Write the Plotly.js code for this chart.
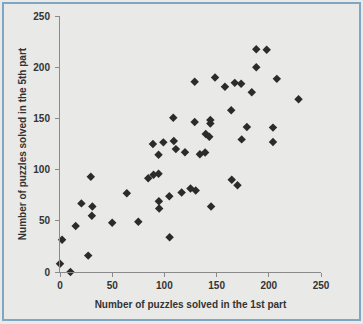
<!DOCTYPE html>
<html>
<head>
<meta charset="utf-8">
<script src="https://cdn.plot.ly/plotly-3.0.1.min.js"></script>
<style>html,body{margin:0;padding:0;background:#e9e9e7;}</style>
</head>
<body>
<div id="chart" style="width:363px;height:324px;"></div>
<script>
const firstPart = [0, 2, 10, 15, 20.5, 27, 29.5, 30.5, 31, 50, 64, 75, 84.5, 89.6, 94.4, 89, 94.4, 99, 94.7, 95,
  104.7, 105, 108.5, 109, 111, 116.5, 119.7, 125, 130, 129, 129, 134, 139, 139.6, 143, 144, 144, 144.7, 148.5, 158,
  164, 164.5, 167.4, 170, 173.5, 174, 179, 183.7, 188, 188, 198, 204, 204, 207.7, 228.5];
const fifthPart = [8, 31.5, 0, 45, 67, 16, 93, 55, 64, 48, 77, 49, 91.5, 95, 96, 125, 114.6, 126.6, 69, 62,
  74, 34, 150.6, 128, 120, 77.6, 117, 81.5, 79.5, 146.4, 185.7, 115, 116.6, 134.7, 132, 148.4, 145, 64, 190, 181,
  158, 90, 184.7, 84.7, 183.8, 129.5, 141.6, 175.6, 217.5, 200, 217, 141, 127, 188.6, 168.8];
const tickVals = [0, 50, 100, 150, 200, 250];
const tickText = ['0', '50', '100', '150', '200', '250'];

const fnt = {family: 'Liberation Sans, Arial, sans-serif', size: 10, color: '#333333', weight: 'bold'};

const trace = {
  x: firstPart, y: fifthPart, type: 'scatter', mode: 'markers',
  cliponaxis: false,
  marker: {symbol: 'diamond', size: 6.5, color: '#2b2b2b'},
  hoverinfo: 'none'
};

const axisBase = {
  range: [0, 250], tickvals: tickVals, ticktext: tickText,
  showgrid: false, zeroline: false, showline: true, linecolor: '#8a8a8a', linewidth: 1,
  ticks: 'outside', ticklen: 4, tickcolor: '#8a8a8a', tickfont: fnt, automargin: false
};

const layout = {
  width: 363, height: 324,
  margin: {l: 60, r: 42, t: 16, b: 52},
  paper_bgcolor: '#e9e9e7', plot_bgcolor: 'rgba(0,0,0,0)',
  showlegend: false,
  xaxis: Object.assign({}, axisBase, {
    title: {text: 'Number of puzzles solved in the 1st part', font: fnt, standoff: 10}
  }),
  yaxis: Object.assign({}, axisBase, {
    ticklabelstandoff: 3,
    title: {text: 'Number of puzzles solved in the 5th part', font: fnt, standoff: 4}
  }),
  shapes: [{
    type: 'rect', xref: 'paper', yref: 'paper',
    x0: -57/261, x1: 1 + 39/261, y0: -48/256, y1: 1 + 13/256,
    line: {color: '#7fa7c4', width: 2}, fillcolor: 'rgba(0,0,0,0)'
  }]
};

Plotly.newPlot('chart', [trace], layout, {displayModeBar: false, staticPlot: true});
</script>
</body>
</html>
